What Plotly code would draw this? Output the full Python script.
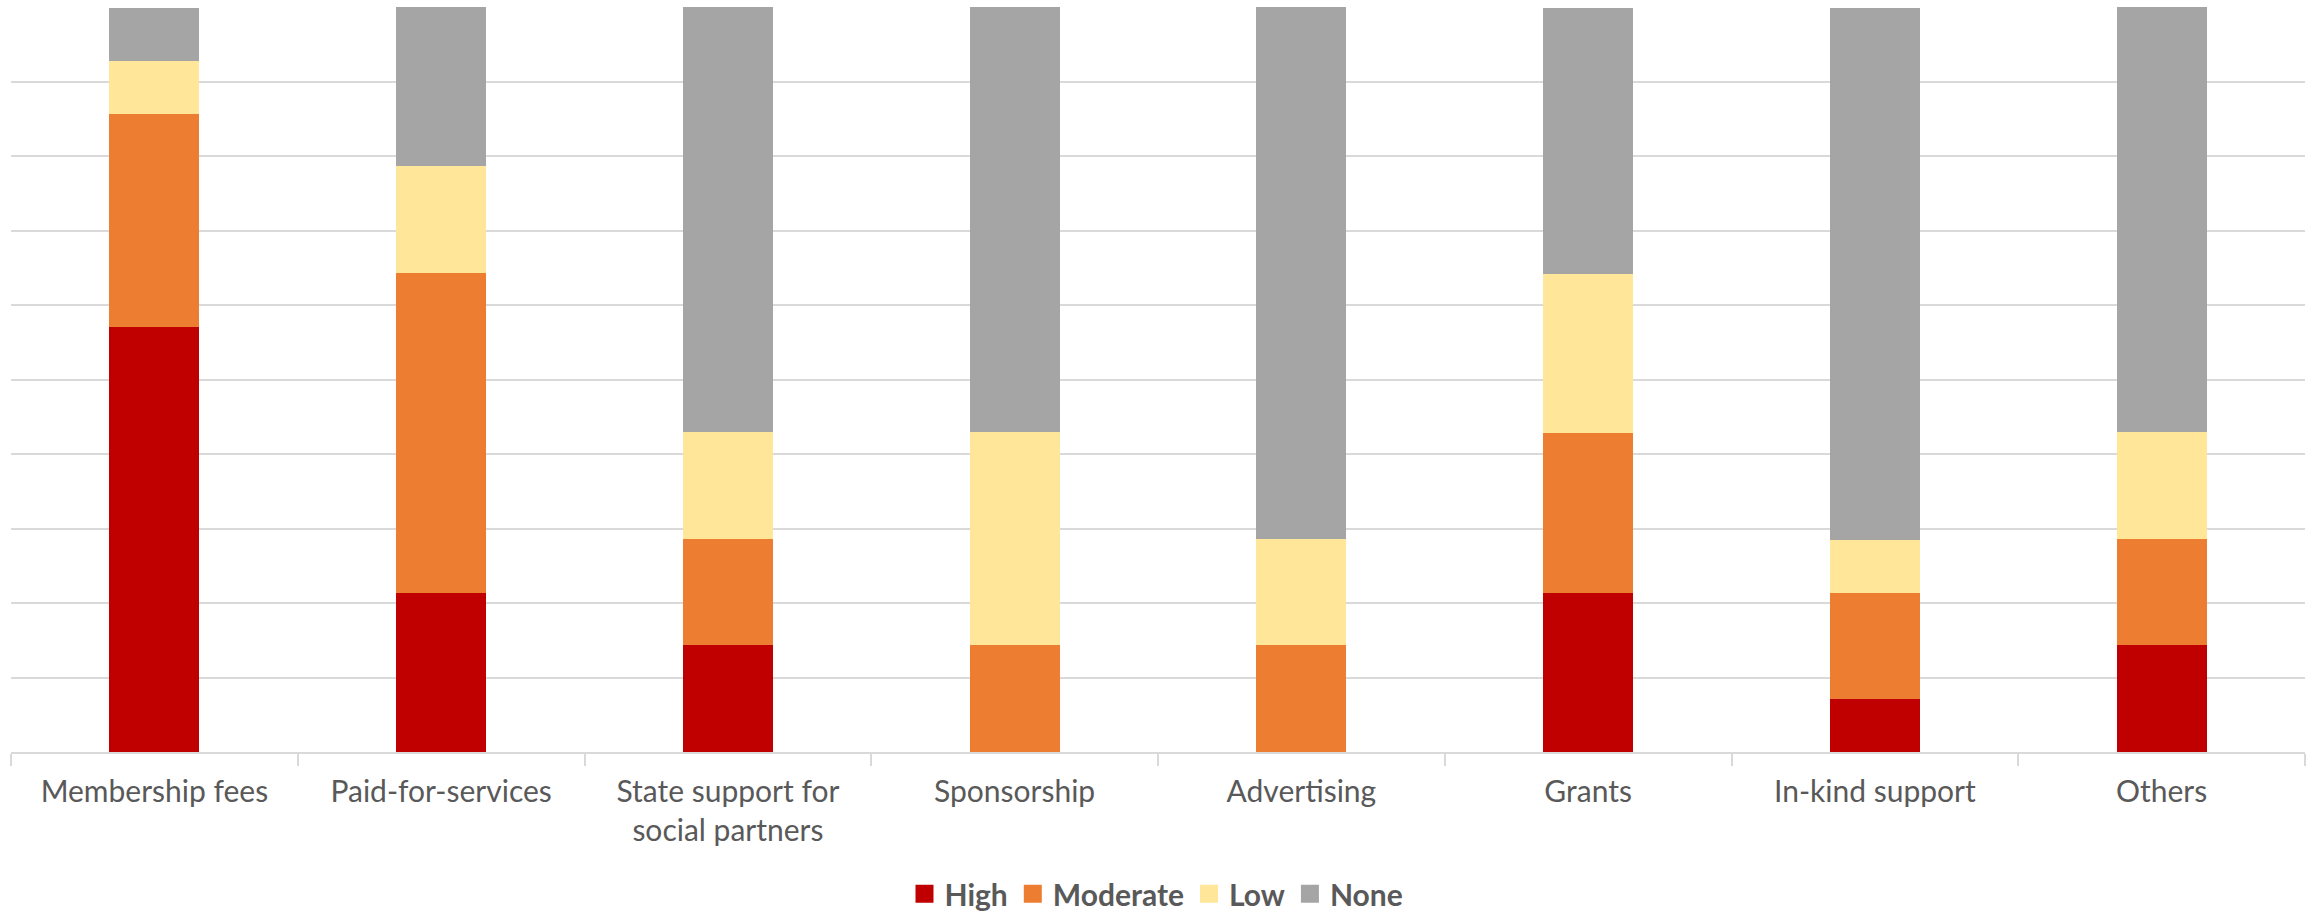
import plotly.graph_objects as go

categories = ["Membership fees", "Paid-for-services", "State support for<br>social partners",
              "Sponsorship", "Advertising", "Grants", "In-kind support", "Others"]
high = [57.1, 21.4, 14.3, 0.0, 0.0, 21.4, 7.1, 14.3]
moderate = [28.6, 42.9, 14.3, 14.3, 14.3, 21.4, 14.3, 14.3]
low = [7.1, 14.3, 14.3, 28.6, 14.3, 21.4, 7.1, 14.3]
none = [7.1, 21.4, 57.1, 57.1, 71.4, 35.7, 71.4, 57.1]

series = [("High", high, "#C00000"), ("Moderate", moderate, "#ED7D31"),
          ("Low", low, "#FFE699"), ("None", none, "#A5A5A5")]

fig = go.Figure()
for name, vals, col in series:
    fig.add_trace(go.Bar(x=categories, y=vals, name=name, showlegend=False,
                         marker=dict(color=col, line=dict(width=0))))
# legend entries with larger square swatches
for name, vals, col in series:
    fig.add_trace(go.Scatter(x=[None], y=[None], mode="markers", name=name,
                             marker=dict(symbol="square", size=18, color=col,
                                         line=dict(width=2, color=col)),
                             showlegend=True))

fig.update_layout(
    barmode="stack",
    bargap=0.686,
    width=2313, height=913,
    margin=dict(l=11, r=8, t=7, b=161, autoexpand=False),
    paper_bgcolor="white", plot_bgcolor="white",
    font=dict(family="Lato, Carlito, Calibri, sans-serif", color="#595959", size=30),
    showlegend=True,
    legend=dict(orientation="h", x=0.5, xanchor="center", xref="container",
                y=0.021, yanchor="middle", yref="container",
                font=dict(size=30, color="#595959", family="Lato, sans-serif", weight="bold"),
                itemwidth=30, traceorder="normal"),
)
fig.update_xaxes(showline=True, linecolor="#d9d9d9", linewidth=1.5, automargin=False,
                 ticks="outside", tickson="boundaries", ticklen=12, tickcolor="#d9d9d9",
                 tickwidth=1.5, tickfont=dict(size=30, color="#595959"), showgrid=False,
                 ticklabelstandoff=12)
fig.update_yaxes(range=[0, 100], dtick=10, showticklabels=False, showgrid=True,
                 gridcolor="#d9d9d9", gridwidth=1.5, zeroline=False, showline=False, ticks="",
                 automargin=False)

fig.write_html("out.html")
